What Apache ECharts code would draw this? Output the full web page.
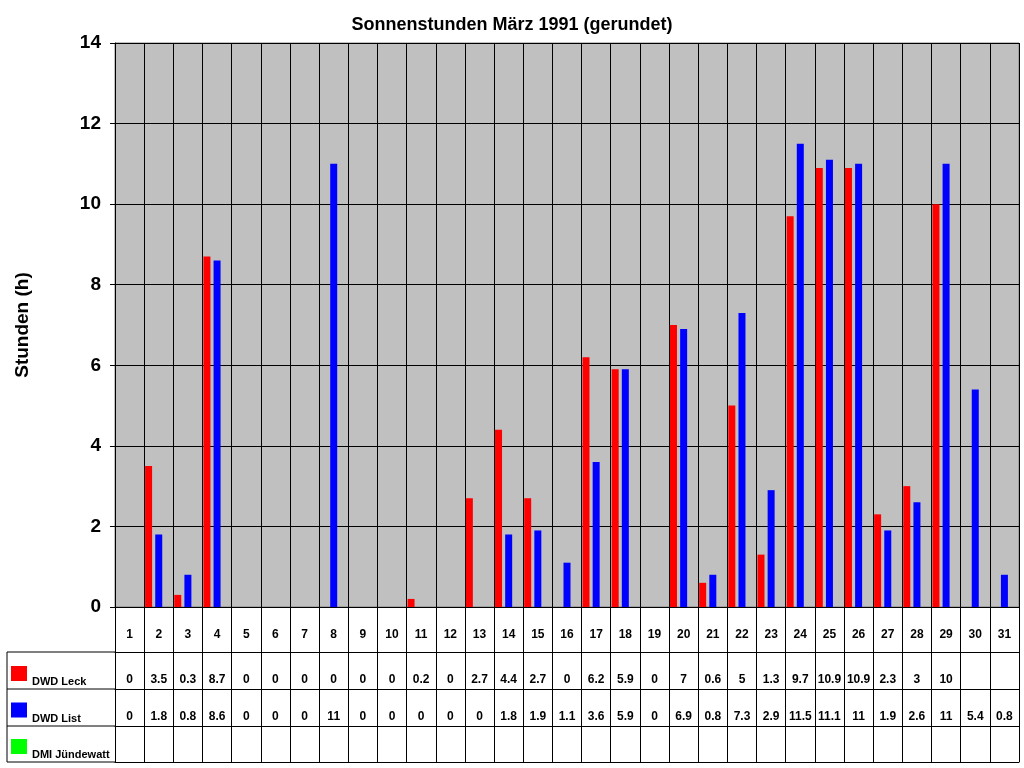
<!DOCTYPE html>
<html>
<head>
<meta charset="utf-8">
<title>Sonnenstunden März 1991</title>
<script src="https://cdn.jsdelivr.net/npm/echarts@6/dist/echarts.min.js"></script>
<style>
    html, body { margin: 0; padding: 0; background: #fff; }
    #main { width: 1024px; height: 768px; }
</style>
</head>
<body>
<div id="main"></div>
<script>
    // days of march 1991
    var days = [];
    for (var d = 1; d <= 31; d++) days.push(String(d));

    // sunshine hours, rounded (null = no reading)
    var leck = [0, 3.5, 0.3, 8.7, 0, 0, 0, 0, 0, 0, 0.2, 0, 2.7, 4.4, 2.7, 0,
        6.2, 5.9, 0, 7, 0.6, 5, 1.3, 9.7, 10.9, 10.9, 2.3, 3, 10, null, null];
    var list = [0, 1.8, 0.8, 8.6, 0, 0, 0, 11, 0, 0, 0, 0, 0, 1.8, 1.9, 1.1,
        3.6, 5.9, 0, 6.9, 0.8, 7.3, 2.9, 11.5, 11.1, 11, 1.9, 2.6, 11, 5.4, 0.8];
    var juendewatt = days.map(function() { return null; });

    var yTicks = [0, 2, 4, 6, 8, 10, 12, 14];

    var FONT = 'Liberation Sans, Arial, sans-serif';

    function tableText(values) {
        return values.map(function(v) { return v === null ? '' : String(v); });
    }

    // one x axis per table row, stacked below the plot with offsets
    function tableAxis(data, offset, tickLen, showLabel) {
        return {
            type: 'category',
            gridIndex: 0,
            position: 'bottom',
            offset: offset,
            data: data,
            axisLine: { show: true, lineStyle: { color: '#000', width: 1 } },
            axisTick: { show: tickLen > 0, interval: 0, length: tickLen, lineStyle: { color: '#000' } },
            axisLabel: {
                show: showLabel, interval: 0, margin: 22,
                fontFamily: FONT, fontWeight: 'bold', fontSize: 12, color: '#000'
            },
            splitLine: { show: false }
        };
    }

    var dayAxis = tableAxis(days, 0, 45, true);
    dayAxis.splitLine = { show: true, interval: 0, lineStyle: { color: '#000', width: 1 } };

    var leftLines = [652, 689, 726, 762].map(function(y) {
        return { type: 'line', shape: { x1: 7, y1: y, x2: 115, y2: y }, style: { stroke: '#000', lineWidth: 1 } };
    });
    leftLines.push({ type: 'line', shape: { x1: 7, y1: 652, x2: 7, y2: 762 }, style: { stroke: '#000', lineWidth: 1 } });

    var chart = echarts.init(document.getElementById('main'), null, { renderer: 'canvas' });
    chart.setOption({
        animation: false,
        backgroundColor: '#fff',
        title: {
            text: 'Sonnenstunden März 1991 (gerundet)',
            left: 'center',
            top: 11,
            textStyle: { fontFamily: FONT, fontWeight: 'bold', fontSize: 18, color: '#000' }
        },
        legend: {
            orient: 'vertical',
            left: 11,
            top: 666,
            padding: 0,
            itemWidth: 16,
            itemHeight: 15,
            itemGap: 15,
            icon: 'rect',
            data: ['DWD Leck', 'DWD List', 'DMI Jündewatt'],
            formatter: '{n|{name}}',
            textStyle: {
                rich: { n: { fontFamily: FONT, fontWeight: 'bold', fontSize: 11, color: '#000', padding: [17, 0, 0, 0] } }
            }
        },
        grid: {
            left: 115,
            right: 5,
            top: 43,
            bottom: 161,
            show: true,
            backgroundColor: '#c0c0c0',
            borderColor: '#808080',
            borderWidth: 1
        },
        xAxis: [
            dayAxis,
            tableAxis(tableText(leck), 45, 37, true),
            tableAxis(tableText(list), 82, 37, true),
            tableAxis(tableText(juendewatt), 119, 36, false),
            tableAxis(days, 155, 0, false)
        ],
        yAxis: {
            type: 'value',
            min: yTicks[0],
            max: yTicks[yTicks.length - 1],
            interval: 2,
            name: 'Stunden (h)',
            nameLocation: 'middle',
            nameGap: 83,
            nameTextStyle: { fontFamily: FONT, fontWeight: 'bold', fontSize: 19, color: '#000' },
            axisLine: { show: true, lineStyle: { color: '#000' } },
            axisTick: { show: true, length: 5, lineStyle: { color: '#000' } },
            axisLabel: { margin: 14, fontFamily: FONT, fontWeight: 'bold', fontSize: 19, color: '#000' },
            splitLine: { show: true, lineStyle: { color: '#000', width: 1 } }
        },
        series: [
            { name: 'DWD Leck', type: 'bar', data: leck, barWidth: 7, barGap: '45%', itemStyle: { color: '#ff0000' } },
            { name: 'DWD List', type: 'bar', data: list, barWidth: 7, barGap: '45%', itemStyle: { color: '#0000ff' } },
            { name: 'DMI Jündewatt', type: 'bar', data: juendewatt, barWidth: 7, barGap: '45%', itemStyle: { color: '#00ff00' } }
        ],
        graphic: leftLines
    });
</script>
</body>
</html>
